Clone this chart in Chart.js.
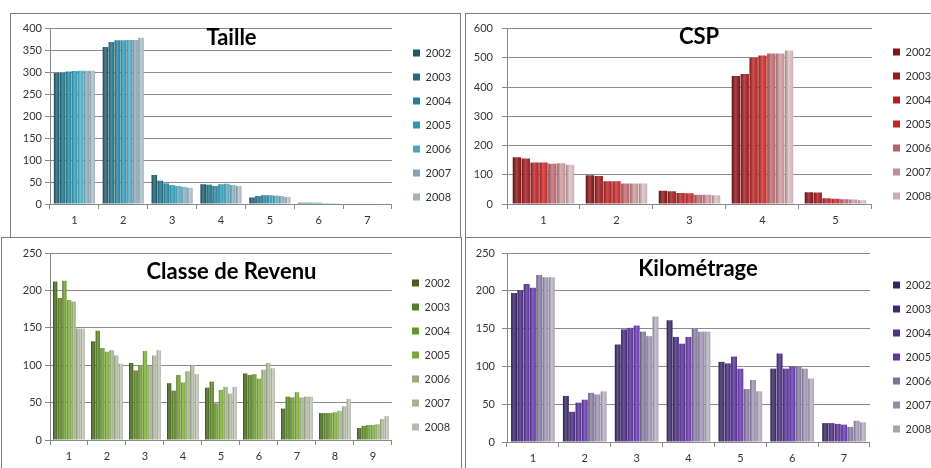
<!DOCTYPE html>
<html>
<head>
<meta charset="utf-8">
<script src="https://cdn.jsdelivr.net/npm/chart.js@4/dist/chart.umd.min.js"></script>
<style>
  body { margin: 0; width: 931px; height: 468px; overflow: hidden; background: #fff; position: relative; }
  .frame { position: absolute; border: 1px solid #7c7c7c; box-sizing: border-box; }
  canvas { position: absolute; }
</style>
</head>
<body>
<div class="frame" style="left:10px;top:13px;width:451px;height:225px"></div>
<div class="frame" style="left:465px;top:13px;width:480px;height:225px"></div>
<div class="frame" style="left:1px;top:237px;width:461px;height:240px"></div>
<div class="frame" style="left:465px;top:237px;width:480px;height:240px"></div>

<canvas id="taille" width="452" height="223" style="left:10px;top:13px"></canvas>
<canvas id="csp" width="476" height="223" style="left:465px;top:13px"></canvas>
<canvas id="revenu" width="452" height="237" style="left:10px;top:237px"></canvas>
<canvas id="km" width="476" height="237" style="left:465px;top:237px"></canvas>

<script>
// years shown in every legend
var years = ['2002', '2003', '2004', '2005', '2006', '2007', '2008'];

// Taille : one row per year, one value per category
var tailleCats = ['1', '2', '3', '4', '5', '6', '7'];
var tailleValues = [
  [298, 357, 66, 45, 15, 3, 0],
  [298, 368, 53, 44, 18, 3, 0],
  [301, 372, 47, 41, 20, 3, 0],
  [302, 372, 43, 45, 20, 3, 0],
  [303, 373, 41, 46, 19, 2, 0],
  [303, 373, 39, 43, 18, 2, 1],
  [303, 378, 37, 41, 16, 2, 1]
];

// CSP
var cspCats = ['1', '2', '3', '4', '5'];
var cspValues = [
  [160, 98, 45, 438, 40],
  [156, 96, 44, 445, 39],
  [142, 78, 38, 500, 20],
  [142, 78, 37, 508, 18],
  [138, 70, 32, 515, 16],
  [139, 70, 32, 515, 15],
  [134, 70, 30, 525, 13]
];

// Classe de Revenu
var revenuCats = ['1', '2', '3', '4', '5', '6', '7', '8', '9'];
var revenuValues = [
  [212, 132, 103, 76, 70, 89, 42, 36, 16],
  [190, 146, 93, 66, 78, 87, 58, 36, 19],
  [213, 123, 100, 87, 49, 88, 57, 36, 20],
  [187, 118, 119, 77, 67, 82, 64, 37, 20],
  [185, 120, 99, 92, 71, 94, 57, 39, 21],
  [149, 113, 113, 100, 62, 103, 58, 45, 28],
  [149, 102, 120, 88, 71, 96, 58, 55, 32]
];

// Kilométrage
var kmCats = ['1', '2', '3', '4', '5', '6', '7'];
var kmValues = [
  [197, 61, 129, 161, 106, 97, 25],
  [201, 40, 149, 139, 104, 117, 25],
  [209, 52, 151, 130, 113, 97, 24],
  [204, 56, 154, 139, 97, 100, 23],
  [221, 65, 146, 150, 70, 100, 20],
  [218, 63, 140, 146, 82, 97, 28],
  [218, 67, 166, 146, 67, 84, 26]
];

Chart.defaults.font.family = 'Lato';
Chart.defaults.color = '#333';

var CAT_PCT = 0.85, BAR_PCT = 0.94;

// put the legend where the original one sits, plot area stays as the layout made it
var legendSpot = {
  id: 'legendSpot',
  afterLayout: function(chart, args, opts) {
    chart.legend.left = opts.x - chart.options.plugins.legend.labels.padding;
    chart.legend.top = opts.y;
    chart.legend.bottom = chart.height;
  }
};

function shade(hex, f) {
  var n = parseInt(hex.slice(1), 16);
  var rgb = [n >> 16, (n >> 8) & 255, n & 255].map(function(v) {
    v = f < 0 ? v * (1 + f) : v + (255 - v) * f;
    return Math.round(v);
  });
  return 'rgb(' + rgb.join(',') + ')';
}

// little cylinder look: dark edge, light streak, base colour
function barFill(colors) {
  return function(ctx) {
    var base = colors[ctx.datasetIndex];
    var chart = ctx.chart, sx = chart.scales.x;
    if (!sx || ctx.dataIndex === undefined || !sx.width) return base;
    var group = sx.width / chart.data.labels.length * CAT_PCT;
    var chunk = group / chart.data.datasets.length;
    var left = sx.getPixelForValue(ctx.dataIndex) - group / 2 + chunk * ctx.datasetIndex + chunk * (1 - BAR_PCT) / 2;
    var g = chart.ctx.createLinearGradient(left, 0, left + chunk * BAR_PCT, 0);
    g.addColorStop(0, shade(base, -0.3));
    g.addColorStop(0.45, shade(base, 0.2));
    g.addColorStop(1, shade(base, -0.08));
    return g;
  };
}

function makeChart(id, cats, rows, colors, title, maxY, step, g) {
  var fill = barFill(colors);
  var datasets = rows.map(function(row, i) {
    return {
      label: years[i],
      data: row,
      backgroundColor: fill,
      borderWidth: 0,
      categoryPercentage: CAT_PCT,
      barPercentage: BAR_PCT
    };
  });
  return new Chart(document.getElementById(id), {
    type: 'bar',
    data: { labels: cats, datasets: datasets },
    plugins: [legendSpot],
    options: {
      responsive: false,
      animation: false,
      layout: { padding: { left: 0, top: g.pt, right: g.pr, bottom: g.pb } },
      scales: {
        x: {
          grid: { drawOnChartArea: false, tickLength: 5, color: '#888' },
          border: { color: '#888' },
          ticks: { padding: 5, font: { size: 11 } }
        },
        y: {
          min: 0, max: maxY,
          ticks: { stepSize: step, padding: g.yPad, font: { size: 11 } },
          grid: { color: '#8a8a8a', tickLength: 5 },
          border: { color: '#888' },
          afterFit: function(s) { s.width = g.yWidth; }
        }
      },
      plugins: {
        legend: {
          position: 'right',
          align: 'start',
          labels: { boxWidth: 7, boxHeight: 7, padding: 13, font: { size: 11 }, color: '#333' }
        },
        legendSpot: { x: g.lx, y: g.ly },
        title: {
          display: true,
          text: title,
          color: '#000',
          font: { size: 22, weight: 'bold' },
          padding: { top: g.ty, bottom: -(26.4 + g.ty) }
        },
        tooltip: { enabled: false }
      }
    }
  });
}

makeChart('taille', tailleCats, tailleValues,
  ['#1f5f73', '#23758c', '#2a8ba6', '#31a3c0', '#52b3cc', '#8ab4c4', '#b0c4ce'],
  'Taille', 400, 50,
  { pt: 15, pr: 9, pb: 3.8, yWidth: 40, yPad: 3, lx: 403, ly: 21.5, ty: -3.2 });

makeChart('csp', cspCats, cspValues,
  ['#8a1517', '#a51c1f', '#c02325', '#d02b2b', '#c56a70', '#d29ba0', '#dcbfc2'],
  'CSP', 600, 100,
  { pt: 15, pr: 8, pb: 3.8, yWidth: 42, yPad: 9, lx: 428, ly: 20.5, ty: -4.7 });

makeChart('revenu', revenuCats, revenuValues,
  ['#496b1e', '#5b8a24', '#6fa32d', '#86b53e', '#a6bb84', '#b7c1a4', '#c6cbbd'],
  'Classe de Revenu', 250, 50,
  { pt: 16, pr: 9, pb: 5.8, yWidth: 40, yPad: 3, lx: 402, ly: 27.5, ty: 5.3 });

makeChart('km', kmCats, kmValues,
  ['#3b2768', '#4a2c84', '#5a339c', '#6a3bb0', '#8a7ca6', '#a298b8', '#b9b2c8'],
  'Kilométrage', 250, 50,
  { pt: 16, pr: 10, pb: 3.8, yWidth: 42, yPad: 7, lx: 428, ly: 29.5, ty: 2.3 });
</script>
</body>
</html>
